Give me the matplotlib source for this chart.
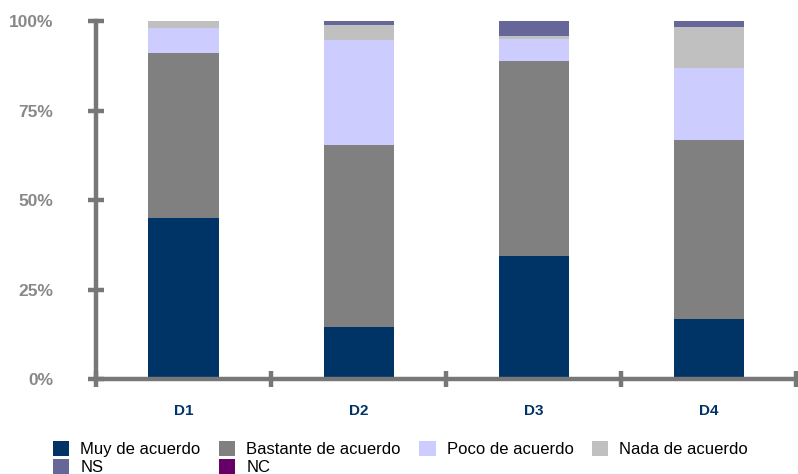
import numpy as np
import matplotlib.pyplot as plt
from matplotlib.patches import Patch

plt.rcParams['font.family'] = ['Liberation Sans', 'DejaVu Sans']

groups = ['D1', 'D2', 'D3', 'D4']
series = ['Muy de acuerdo', 'Bastante de acuerdo', 'Poco de acuerdo',
          'Nada de acuerdo', 'NS', 'NC']
muy = [45.0, 14.5, 34.4, 16.8]
bastante = [46.1, 50.9, 54.4, 50.0]
poco = [6.9, 29.3, 6.2, 20.1]
nada = [2.0, 4.2, 0.8, 11.4]
ns = [0.0, 1.1, 4.2, 1.7]
nc = [0.0, 0.0, 0.0, 0.0]
colors = ['#003366', '#808080', '#ccccff', '#c0c0c0', '#666699', '#660066']
values = [muy, bastante, poco, nada, ns, nc]

fig = plt.figure(figsize=(7.98, 4.74), dpi=100)
ax = fig.add_axes([0.1203, 0.2004, 0.8772, 0.7553])

x = np.arange(len(groups))
bottom = np.zeros(len(groups))
for vals, col in zip(values, colors):
    ax.bar(x, vals, width=0.4, bottom=bottom, color=col, zorder=2)
    bottom += np.array(vals)

ax.set_xlim(-0.5, 3.5)
ax.set_ylim(0, 100)

axis_col = '#777777'
for s in ['top', 'right']:
    ax.spines[s].set_visible(False)
for s in ['left', 'bottom']:
    ax.spines[s].set_color(axis_col)
    ax.spines[s].set_linewidth(3.2)
    ax.spines[s].set_zorder(3)

ax.set_yticks([0, 25, 50, 75, 100])
ax.set_yticklabels(['0%', '25%', '50%', '75%', '100%'])
ax.tick_params(axis='y', direction='inout', length=11.5, width=3.2,
               color=axis_col, pad=25, labelsize=12.5, labelcolor='#888888')
for t in ax.get_yticklabels():
    t.set_fontweight('bold')

ax.set_xticks([-0.5, 0.5, 1.5, 2.5, 3.5])
ax.set_xticklabels([])
ax.tick_params(axis='x', which='major', direction='inout', length=11.5,
               width=3.2, color=axis_col)
ax.set_xticks(x, minor=True)
ax.set_xticklabels(groups, minor=True)
ax.tick_params(axis='x', which='minor', length=0, pad=18, labelsize=11,
               labelcolor='#003366')
for t in ax.get_xticklabels(minor=True):
    t.set_fontweight('bold')

handles = [Patch(facecolor=c, label=l) for c, l in zip(colors, series)]
order = [0, 4, 1, 5, 2, 3]
fig.legend([handles[i] for i in order], [series[i] for i in order],
           ncol=4, loc='lower left', bbox_to_anchor=(0.066, -0.003),
           frameon=False, fontsize=12, handlelength=1.0,
           handleheight=1.0, handletextpad=0.65, columnspacing=1.1,
           labelspacing=0.12, borderpad=0.0, borderaxespad=0.0)

fig.savefig('out.png', dpi=100)
